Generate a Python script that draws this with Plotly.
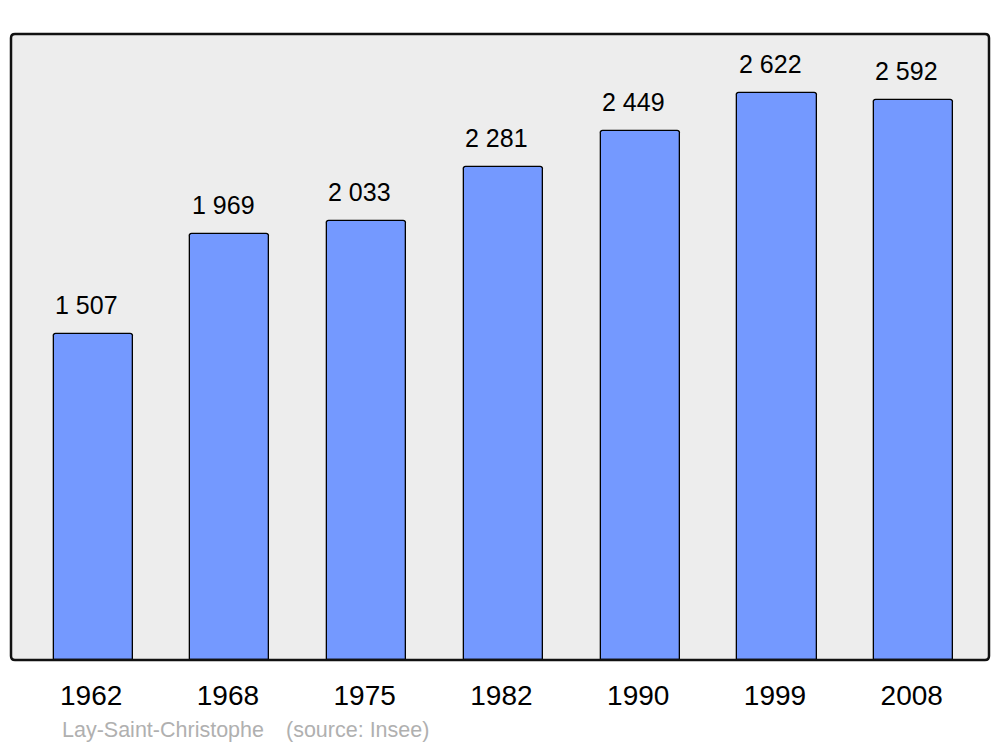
import plotly.graph_objects as go

years = ["1962", "1968", "1975", "1982", "1990", "1999", "2008"]
population = [1507, 1969, 2033, 2281, 2449, 2622, 2592]
labels = ["1 507", "1 969", "2 033", "2 281", "2 449", "2 622", "2 592"]

positions = list(range(len(years)))

W, H = 1000, 747
ml, mr, mt, mb = 11, 11, 34, 87
pw = W - ml - mr
ph = H - mt - mb

FONT = "Liberation Sans, Arial, sans-serif"

fig = go.Figure()
fig.add_trace(go.Bar(
    x=positions, y=population, width=0.578,
    marker=dict(color="#7499ff", line=dict(color="#000000", width=1.3), cornerradius=3),
    hoverinfo="skip",
))

for p, v, t in zip(positions, population, labels):
    fig.add_annotation(x=p - 0.05, y=v, text=t, showarrow=False, yshift=29,
                       font=dict(family=FONT, size=25, color="#000000"))

# rounded frame in paper coordinates
r = 4
rx = r / pw
ry = r / ph
path = (f"M {rx},0 L {1-rx},0 Q 1,0 1,{ry} L 1,{1-ry} Q 1,1 {1-rx},1 "
        f"L {rx},1 Q 0,1 0,{1-ry} L 0,{ry} Q 0,0 {rx},0 Z")
fig.add_shape(type="path", path=path, xref="paper", yref="paper",
              line=dict(color="#111111", width=2.5), layer="above")

fy = -70 / ph
fig.add_annotation(x=(60 - ml) / pw, y=fy, xref="paper", yref="paper",
                   xanchor="left", yanchor="middle", showarrow=False,
                   text="Lay-Saint-Christophe",
                   font=dict(family=FONT, size=21.5, color="#b0b0b0"))
fig.add_annotation(x=(284 - ml) / pw, y=fy, xref="paper", yref="paper",
                   xanchor="left", yanchor="middle", showarrow=False,
                   text="(source: Insee)",
                   font=dict(family=FONT, size=21.5, color="#b0b0b0"))

fig.update_layout(
    width=W, height=H,
    margin=dict(l=ml, r=mr, t=mt, b=mb),
    paper_bgcolor="#ffffff", plot_bgcolor="#ededed",
    showlegend=False, bargap=0,
    xaxis=dict(range=[-0.601, 6.550], tickvals=[p - 0.015 for p in positions], ticktext=years,
               tickfont=dict(family=FONT, size=28, color="#000000"),
               showgrid=False, zeroline=False, showline=False, ticks="", ticklabelstandoff=16,
               fixedrange=True),
    yaxis=dict(range=[0, 2896], showgrid=False, zeroline=False, showticklabels=False,
               showline=False, ticks="", fixedrange=True),
)

fig.write_html("out.html", config={"displayModeBar": False},
               post_script="document.body.style.margin='0';")
